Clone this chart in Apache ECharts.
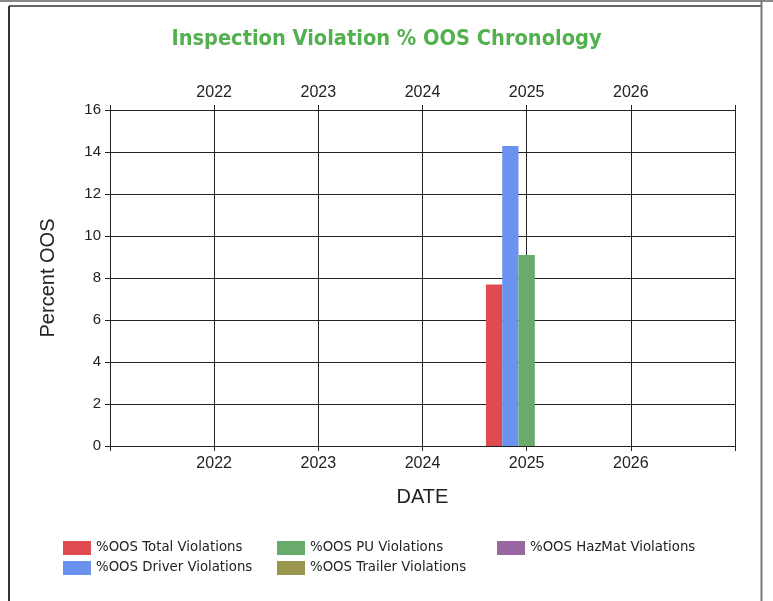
<!DOCTYPE html>
<html>
<head>
<meta charset="utf-8">
<script src="https://cdn.jsdelivr.net/npm/echarts@6/dist/echarts.min.js"></script>
<style>
html,body{margin:0;padding:0;background:#fff;}
#c{width:773px;height:601px;}
</style>
</head>
<body>
<div id="c"></div>
<script>
// ---- data ----
const yearTicks = [2022, 2023, 2024, 2025, 2026];
const xMin = 2021, xMax = 2027;
const seriesNames = ['%OOS Total Violations', '%OOS Driver Violations', '%OOS PU Violations', '%OOS Trailer Violations', '%OOS HazMat Violations'];
const seriesColors = ['#E04B52', '#6C92F0', '#6AAA6A', '#9A954F', '#9866A0'];
const dataDate = 2025;
const totalVals = [7.69];
const driverVals = [14.29];
const puVals = [9.09];
const trailerVals = [0];
const hazmatVals = [0];
const allVals = [totalVals, driverVals, puVals, trailerVals, hazmatVals];

const chart = echarts.init(document.getElementById('c'), null, {renderer: 'canvas'});
const labelFmt = v => (yearTicks.indexOf(Math.round(v)) >= 0 ? String(Math.round(v)) : '');
const axisFont = {fontFamily: 'Liberation Sans, Arial', fontSize: 16, color: '#222'};

const legendPos = [[63, 541], [63, 561], [277, 541], [277, 561], [497, 541]];
const legends = seriesNames.map((n, i) => ({
  data: [n], left: legendPos[i][0], top: legendPos[i][1], orient: 'horizontal',
  icon: 'rect', itemWidth: 28, itemHeight: 14, selectedMode: false, padding: 0,
  textStyle: {fontFamily: 'DejaVu Sans', fontSize: 13.3, color: '#222'}
}));

const option = {
  animation: false,
  backgroundColor: '#fff',
  title: {
    text: 'Inspection Violation % OOS Chronology', left: 'center', top: 23,
    textStyle: {fontFamily: 'DejaVu Sans Condensed, DejaVu Sans', fontSize: 21.6, fontWeight: 'bold', color: '#52B04E'}
  },
  legend: legends,
  grid: {left: 110, right: 38, top: 110, bottom: 155},
  xAxis: [
    {type: 'value', min: xMin, max: xMax, interval: 1, position: 'bottom',
     name: 'DATE', nameLocation: 'middle', nameGap: 41,
     nameTextStyle: {fontFamily: 'Liberation Sans, Arial', fontSize: 20, color: '#222'},
     axisLine: {lineStyle: {color: '#222', width: 1}},
     axisTick: {show: true, length: 5, lineStyle: {color: '#222'}},
     axisLabel: Object.assign({formatter: labelFmt, margin: 10}, axisFont),
     splitLine: {show: true, lineStyle: {color: '#222', width: 1}}},
    {type: 'value', min: xMin, max: xMax, interval: 1, position: 'top',
     axisLine: {lineStyle: {color: '#222', width: 1}},
     axisTick: {show: true, length: 5, lineStyle: {color: '#222'}},
     axisLabel: Object.assign({formatter: labelFmt, margin: 9}, axisFont),
     splitLine: {show: false}}
  ],
  yAxis: {
    type: 'value', min: 0, max: 16, interval: 2,
    name: 'Percent OOS', nameLocation: 'middle', nameGap: 52, nameRotate: 90,
    nameTextStyle: {fontFamily: 'Liberation Sans, Arial', fontSize: 20, color: '#222'},
    axisLine: {show: true, lineStyle: {color: '#222', width: 1}},
    axisTick: {show: true, length: 5, lineStyle: {color: '#222'}},
    axisLabel: Object.assign({margin: 9}, axisFont, {fontSize: 15}),
    splitLine: {show: true, lineStyle: {color: '#222', width: 1}}
  },
  series: seriesNames.map((n, i) => ({
    name: n, type: 'bar', xAxisIndex: 0, barWidth: 16.3, barGap: '0%',
    itemStyle: {color: seriesColors[i]},
    data: allVals[i].map(v => [dataDate, v])
  })),
  graphic: [
    {type: 'line', shape: {x1: 0, y1: 1, x2: 773, y2: 1}, style: {stroke: '#888', lineWidth: 2}, silent: true},
    {type: 'line', shape: {x1: 9, y1: 6, x2: 761, y2: 6}, style: {stroke: '#333', lineWidth: 1.5}, silent: true},
    {type: 'line', shape: {x1: 9, y1: 6, x2: 9, y2: 601}, style: {stroke: '#333', lineWidth: 2}, silent: true},
    {type: 'line', shape: {x1: 761.5, y1: 0, x2: 761.5, y2: 601}, style: {stroke: '#777', lineWidth: 2}, silent: true}
  ]
};
chart.setOption(option);
</script>
</body>
</html>
